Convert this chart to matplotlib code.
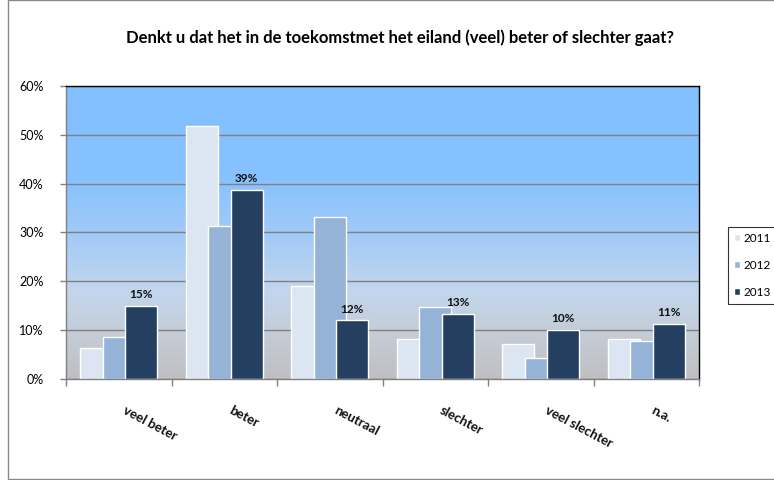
import numpy as np
import matplotlib
matplotlib.use("Agg")
import matplotlib.pyplot as plt
from matplotlib.colors import LinearSegmentedColormap
from matplotlib.patches import Rectangle

plt.rcParams['font.family'] = ['Lato', 'DejaVu Sans']

title = "Denkt u dat het in de toekomstmet het eiland (veel) beter of slechter gaat?"
categories = ["veel beter", "beter", "neutraal", "slechter", "veel slechter", "n.a."]
series_names = ["2011", "2012", "2013"]
v2011 = [6.3, 51.9, 19.1, 8.2, 7.2, 8.2]
v2012 = [8.7, 31.4, 33.2, 14.7, 4.4, 7.7]
v2013 = [15.0, 38.8, 12.0, 13.4, 10.0, 11.3]
yticks = [0, 10, 20, 30, 40, 50, 60]
colors = ["#DCE6F2", "#95B3D7", "#243F60"]

W, H = 774, 480
fig = plt.figure(figsize=(W / 100, H / 100), dpi=100)
ax = fig.add_axes([66 / W, 1 - 379 / H, (699 - 66) / W, (379 - 86) / H])

# gradient background
cmap = LinearSegmentedColormap.from_list("bg", [
    (0.0, (0.75, 0.75, 0.76)),
    (0.15, (0.77, 0.80, 0.84)),
    (0.30, (0.76, 0.84, 0.93)),
    (0.50, (0.63, 0.79, 0.97)),
    (0.68, (0.53, 0.76, 1.0)),
    (1.0, (0.51, 0.75, 1.0)),
])
grad = np.linspace(0, 1, 256).reshape(-1, 1)
n = len(categories)
ax.imshow(grad, cmap=cmap, aspect='auto', origin='lower',
          extent=[-0.5, n - 0.5, 0, 60], zorder=0)

x = np.arange(n)
bw = 0.30
off = 0.213
for i, (vals, c) in enumerate(zip([v2011, v2012, v2013], colors)):
    ax.bar(x + (i - 1) * off, vals, width=bw, color=c, edgecolor="white",
           linewidth=1.0, zorder=3 + i, label=series_names[i])

for xi, v in zip(x, v2013):
    ax.text(xi + off, v + 1.2, f"{int(round(v))}%", ha='center', va='bottom',
            fontsize=8.5, fontweight='bold', color='#111111', zorder=10)

ax.set_xlim(-0.5, n - 0.5)
ax.set_ylim(0, 60)
ax.set_yticks(yticks)
ax.set_yticklabels([f"{t}%" for t in yticks], fontsize=9)
ax.yaxis.grid(True, color="#808080", linewidth=1.0, zorder=1)
ax.set_axisbelow(False)
for gl in ax.get_ygridlines():
    gl.set_zorder(1)
ax.tick_params(axis='y', length=4, color="#808080", width=1, pad=12)

ax.set_xticks(np.arange(n + 1) - 0.5)
ax.set_xticklabels([])
ax.tick_params(axis='x', length=5, color="#808080", width=1)
for xi, lab in zip(x, categories):
    ax.text(xi + 0.08, -5.2, lab, rotation=-28, rotation_mode='anchor',
            ha='left', va='top', fontsize=9.5, fontweight='bold', color='#111111')

ax.spines['left'].set_color("#808080")
ax.spines['bottom'].set_color("#808080")
ax.spines['top'].set_color("#000000")
ax.spines['right'].set_color("#000000")
for s in ax.spines.values():
    s.set_linewidth(1.0)
    s.set_zorder(12)

fig.text(400 / W, 1 - 38 / H, title, ha='center', va='center', fontsize=12,
         fontweight='bold', color='#000000')

leg = fig.legend(loc='upper left', bbox_to_anchor=(728 / W, 1 - 227 / H),
                 frameon=True, fontsize=8.5, handlelength=0.55, handleheight=0.55,
                 handletextpad=0.3, labelspacing=1.35, borderpad=0.5,
                 borderaxespad=0, fancybox=False, edgecolor='#000000')
leg.get_frame().set_linewidth(0.8)

fig.patches.append(Rectangle((8 / W, 1 / H), (W - 7) / W, (H - 1) / H,
                             transform=fig.transFigure, fill=False,
                             edgecolor="#888888", linewidth=1.0))

fig.savefig("out.png", dpi=100)
